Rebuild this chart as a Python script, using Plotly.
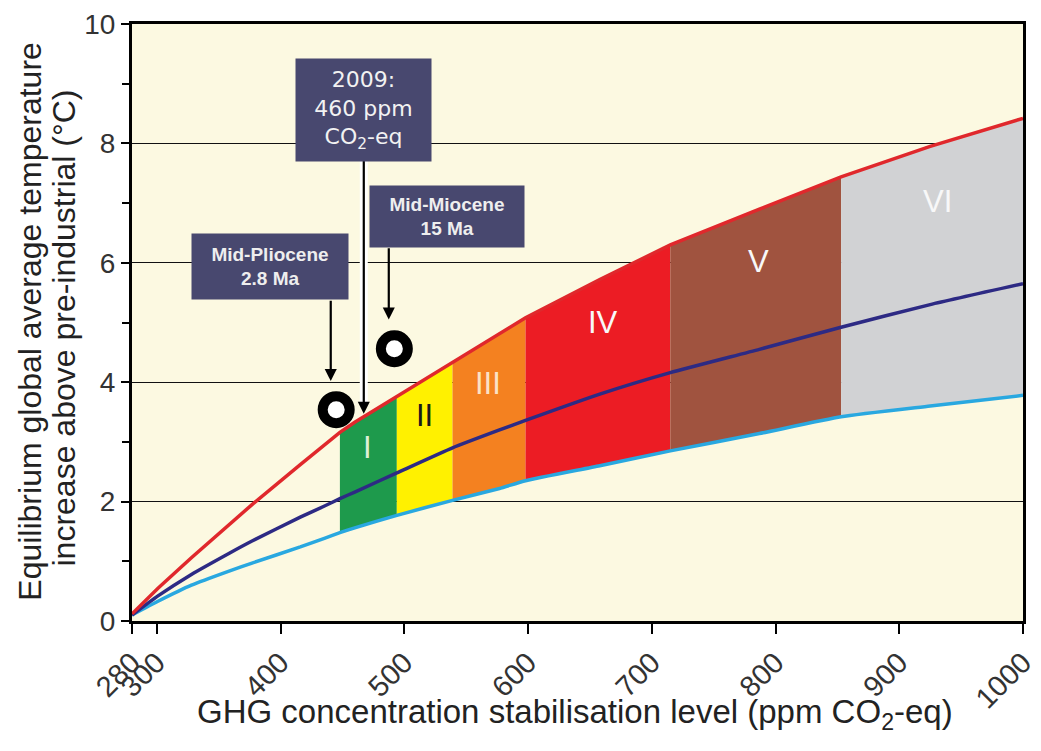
import plotly.graph_objects as go

# ---- data ----
ppm = [280, 301, 328, 359, 377, 416, 436, 448, 460, 494, 539, 577, 598, 658, 715, 787, 853, 925, 1000]
upper = [0.12, 0.55, 1.06, 1.62, 1.95, 2.62, 2.96, 3.16, 3.33, 3.76, 4.33, 4.80, 5.08, 5.72, 6.30, 6.90, 7.44, 7.95, 8.42]
best = [0.10, 0.42, 0.78, 1.14, 1.34, 1.74, 1.93, 2.05, 2.16, 2.48, 2.90, 3.20, 3.36, 3.80, 4.16, 4.55, 4.92, 5.30, 5.65]
lower = [0.10, 0.33, 0.60, 0.84, 0.97, 1.24, 1.39, 1.48, 1.56, 1.77, 2.02, 2.22, 2.35, 2.60, 2.85, 3.14, 3.42, 3.60, 3.78]

categories = ["I", "II", "III", "IV", "V", "VI"]
cat_bounds = [448, 494, 539, 598, 715, 853, 1000]

ring_names = ["Mid-Pliocene", "Mid-Miocene"]
ring_ppm = [445, 492]
ring_temp = [3.54, 4.56]

x_ticks = [280, 300, 400, 500, 600, 700, 800, 900, 1000]
y_ticks = [0, 2, 4, 6, 8, 10]

# ---- styles ----
band_colors = ["#1E9A4C", "#FFF100", "#F48120", "#EC1C24", "#A0533F", "#D1D2D4"]
label_colors = ["#DDF0D6", "#1A1A1A", "#FBE2C6", "#F8F8F8", "#F8F8F8", "#F8F8F8"]
label_pos = [(470, 2.90), (516.5, 3.45), (568, 3.98), (661, 5.0), (786, 6.03), (931, 7.03)]
box_color = "#48486F"

fig = go.Figure()

# category bands between lower and upper curves
for i, name in enumerate(categories):
    b0, b1 = cat_bounds[i], cat_bounds[i + 1]
    idx = [k for k, v in enumerate(ppm) if b0 <= v <= b1]
    xs = [ppm[k] for k in idx] + [ppm[k] for k in reversed(idx)]
    ys = [lower[k] for k in idx] + [upper[k] for k in reversed(idx)]
    fig.add_trace(go.Scatter(x=xs, y=ys, fill="toself", fillcolor=band_colors[i],
                             line=dict(width=0), mode="lines", hoverinfo="skip",
                             showlegend=False, name=name))

# curves
fig.add_trace(go.Scatter(x=ppm, y=lower, mode="lines", line=dict(color="#29A8E0", width=3.5, shape="spline", smoothing=0.5), showlegend=False))
fig.add_trace(go.Scatter(x=ppm, y=best, mode="lines", line=dict(color="#2D2A84", width=3.5, shape="spline", smoothing=0.5), showlegend=False))
fig.add_trace(go.Scatter(x=ppm, y=upper, mode="lines", line=dict(color="#E0282C", width=3.5), showlegend=False))

# paleo rings
fig.add_trace(go.Scatter(x=ring_ppm, y=ring_temp, mode="markers", text=ring_names,
                         marker=dict(symbol="circle", size=27, color="white",
                                     line=dict(color="black", width=10)),
                         showlegend=False))

annotations = []
for i, name in enumerate(categories):
    annotations.append(dict(x=label_pos[i][0], y=label_pos[i][1], xref="x", yref="y", text=name,
                            showarrow=False,
                            font=dict(family="Liberation Sans Narrow, Arial Narrow, Liberation Sans",
                                      size=31, color=label_colors[i])))

# white outline of 2009 arrow
fig.add_shape(type="line", x0=467.3, x1=467.3, y0=7.73, y1=3.62, xref="x", yref="y",
              line=dict(color="white", width=8))

# arrows
for (xa, ya_from, ya_to) in [(467.3, 7.73, 3.47), (440.6, 5.39, 4.02), (487.5, 6.27, 5.05)]:
    annotations.append(dict(x=xa, y=ya_to, ax=xa, ay=ya_from, xref="x", yref="y",
                            axref="x", ayref="y", text="", showarrow=True,
                            arrowhead=2, arrowsize=1.1, arrowwidth=2.2, arrowcolor="black"))

# boxes
annotations.append(dict(x=466.8, y=8.56, xref="x", yref="y",
                        text="2009:<br>460 ppm<br>CO<sub>2</sub>-eq", showarrow=False,
                        width=135, height=102, bgcolor=box_color, borderpad=0,
                        font=dict(family="DejaVu Sans, Verdana", size=22, color="#F2F2F2")))
annotations.append(dict(x=534.3, y=6.77, xref="x", yref="y",
                        text="<b>Mid-Miocene</b><br><b>15 Ma</b>", showarrow=False,
                        width=154, height=61, bgcolor=box_color, borderpad=0,
                        font=dict(family="Liberation Sans, Arial", size=19, color="#EEEEEE")))
annotations.append(dict(x=391.3, y=5.93, xref="x", yref="y",
                        text="<b>Mid-Pliocene</b><br><b>2.8 Ma</b>", showarrow=False,
                        width=156, height=65, bgcolor=box_color, borderpad=0,
                        font=dict(family="Liberation Sans, Arial", size=19, color="#EEEEEE")))

# axis titles
title_font = dict(family="Liberation Sans, Arial", size=32, color="#222222")
annotations.append(dict(x=-0.1145, y=0.503, xref="paper", yref="paper", textangle=-90,
                        text="Equilibrium global average temperature", showarrow=False,
                        font=title_font, xanchor="center", yanchor="middle"))
annotations.append(dict(x=-0.0763, y=0.49, xref="paper", yref="paper", textangle=-90,
                        text="increase above pre-industrial (°C)", showarrow=False,
                        font=title_font, xanchor="center", yanchor="middle"))
annotations.append(dict(x=0.497, y=-0.155, xref="paper", yref="paper",
                        text="GHG concentration stabilisation level (ppm CO<sub>2</sub>-eq)",
                        showarrow=False, font=dict(family="Liberation Sans, Arial", size=33, color="#222222"),
                        xanchor="center", yanchor="middle"))

tick_font = dict(family="Liberation Sans, Arial", size=29, color="#333333")

# the page adds an 8px body margin, so the figure is sized to the remaining window
fig.update_layout(
    width=1033, height=743,
    margin=dict(l=124, r=18, t=16, b=130, autoexpand=False),
    paper_bgcolor="white", plot_bgcolor="#FCF9E1",
    annotations=annotations,
    xaxis=dict(range=[280, 1000], tickmode="array", tickvals=x_ticks,
               ticktext=[str(v) for v in x_ticks], tickangle=-45, automargin=False,
               ticklabeloverflow="allow",
               ticks="outside", ticklen=10, tickwidth=2, tickcolor="black",
               showline=True, linewidth=3, linecolor="black", mirror=True,
               showgrid=False, zeroline=False, tickfont=tick_font),
    yaxis=dict(range=[0, 10], tickmode="array", tickvals=y_ticks,
               ticktext=[str(v) for v in y_ticks], ticks="outside", ticklen=8,
               tickwidth=2, tickcolor="black", automargin=False,
               ticklabeloverflow="allow",
               minor=dict(tickmode="array", tickvals=[1, 3, 5, 7, 9], ticks="outside",
                          ticklen=7, tickwidth=2, tickcolor="black", showgrid=False),
               showgrid=True, gridcolor="#111111", gridwidth=1.3,
               showline=True, linewidth=3, linecolor="black", mirror=True,
               zeroline=False, tickfont=dict(family="Liberation Sans, Arial", size=28, color="#333333")),
)

fig.write_html("out.html")
